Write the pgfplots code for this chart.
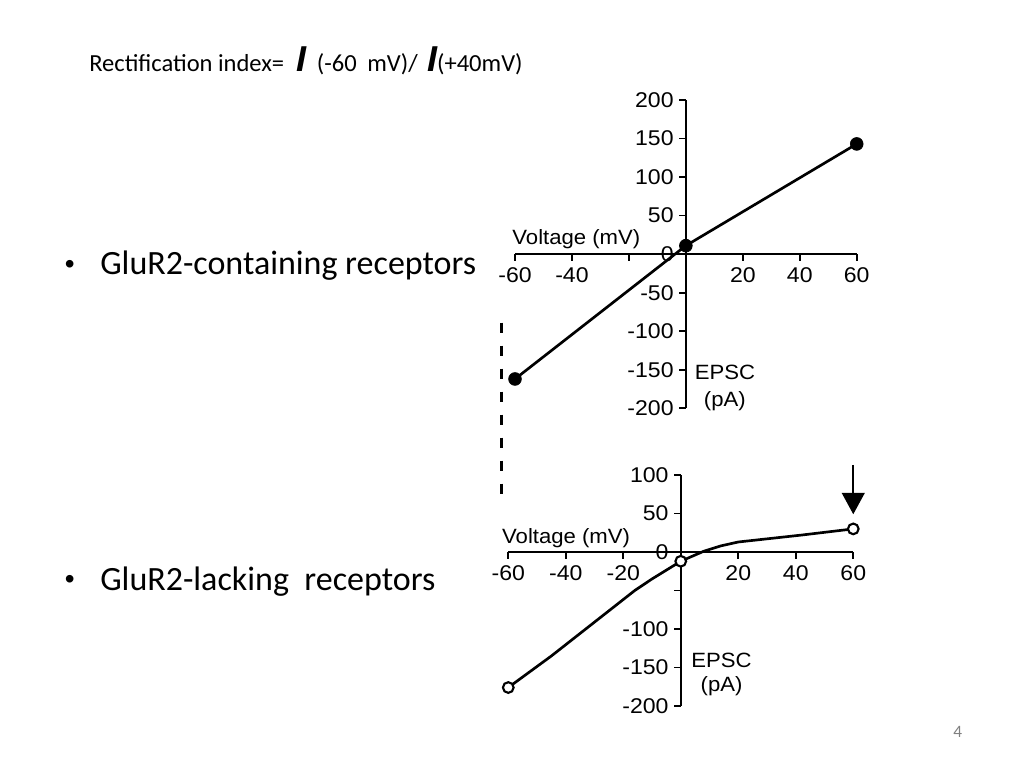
\documentclass[border=0pt]{standalone}
\usepackage{fontspec}
\setmainfont{Carlito}
\newfontfamily\tickfont[FakeStretch=1.08]{Liberation Sans}
\newfontfamily\labfont[FakeStretch=1.07]{Liberation Sans}
\newfontfamily\arialfont{Liberation Sans}
\usepackage{pgfplots}
\pgfplotsset{compat=1.18}
\usetikzlibrary{arrows.meta}

\pgfplotsset{
  iv/.style={
    scale only axis, anchor=south west,
    axis lines=center,
    every inner x axis line/.append style={-},
    every inner y axis line/.append style={-},
    axis line style={line width=1.6pt, black, -},
    tick style={line width=1.3pt, black},
    major tick length=5pt,
    tick align=outside,
    hide obscured x ticks=false, hide obscured y ticks=false,
    xmin=-60, xmax=60,
    xtick={-60,-40,-20,20,40,60},
    /pgf/number format/assume math mode=true,
    ticklabel style={font=\tickfont\fontsize{16}{16}\selectfont},
    xticklabel style={inner sep=2pt, yshift=-3pt},
    yticklabel style={inner sep=2pt, xshift=-2pt},
    clip=false,
  }
}
\newcommand{\bigI}{{\arialfont\bfseries\itshape\fontsize{27}{27}\selectfont I}}

\begin{document}
\begin{tikzpicture}
\path[use as bounding box, fill=white] (0,0) rectangle (768pt,576pt);

% slide text
\node[anchor=base west, inner sep=0, font=\fontsize{18.4}{20}\selectfont] at (66.75pt,522pt)
  {Rectification index=\hspace{9.5pt}\bigI\hspace{7.5pt}(-60\hspace{8pt}mV)/\hspace{7pt}\bigI(+40mV)};
\node[anchor=base west, inner sep=0, font=\arialfont\fontsize{21}{24}\selectfont] at (48.5pt,371pt) {•};
\node[anchor=base west, inner sep=0, font=\fontsize{25.5}{28}\selectfont] at (75pt,369.75pt) {GluR2-containing receptors};
\node[anchor=base west, inner sep=0, font=\arialfont\fontsize{21}{24}\selectfont] at (48.5pt,134.75pt) {•};
\node[anchor=base west, inner sep=0, font=\fontsize{25.5}{28}\selectfont] at (75pt,133.5pt) {GluR2-lacking~ receptors};
\node[anchor=base west, inner sep=0, text=black!50, font=\fontsize{13}{14}\selectfont] at (714.75pt,23.25pt) {4};

% top plot: GluR2-containing
\begin{axis}[iv,
  at={(386.25pt,269.8pt)}, width=256.3pt, height=231.2pt,
  ymin=-200, ymax=200,
  xticklabels={-60,-40,,20,40,60},
  ytick={-200,-150,-100,-50,0,50,100,150,200},
  yticklabels={-200,-150,-100,-50,0,50,100,150,200},
]
\addplot[black, line width=2pt, mark=*, mark size=4.8pt, mark options={solid, fill=black, line width=0.5pt}]
  coordinates {(-60,-162) (0,11) (60,143)};
\draw[black, line width=2.2pt, dash pattern=on 7.5pt off 9.75pt] (axis cs:-64.7,-89) -- (axis cs:-64.7,-315);
\node[anchor=base west, inner sep=0, font=\labfont\fontsize{15.5}{15.5}\selectfont] at (axis cs:-61,12) {Voltage (mV)};
\node[anchor=base, inner sep=0, font=\labfont\fontsize{15.5}{15.5}\selectfont] at (axis cs:13.7,-163) {EPSC};
\node[anchor=base, inner sep=0, font=\labfont\fontsize{15.5}{15.5}\selectfont] at (axis cs:13.7,-197.8) {(pA)};
\end{axis}

% bottom plot: GluR2-lacking
\begin{axis}[iv,
  at={(381.2pt,46.5pt)}, width=258.75pt, height=173.25pt,
  ymin=-200, ymax=100,
  xticklabels={-60,-40,-20,20,40,60},
  ytick={-200,-150,-100,-50,0,50,100},
  yticklabels={-200,-150,-100,,0,50,100},
]
\addplot[black, line width=2pt]
  coordinates {(-60,-176) (-45,-135) (-16,-50) (-10,-35) (0,-12) (8,1) (14,8) (20,13) (42,22) (60,30)};
\addplot[only marks, mark=*, mark size=4pt, mark options={line width=1.6pt, fill=white, draw=black}]
  coordinates {(-60,-176) (0,-12) (60,30)};
\draw[black, line width=1.5pt, -{Triangle[length=16pt, width=17pt]}] (axis cs:60,113) -- (axis cs:60,49);
\node[anchor=base west, inner sep=0, font=\labfont\fontsize{15.5}{15.5}\selectfont] at (axis cs:-62.2,11) {Voltage (mV)};
\node[anchor=base, inner sep=0, font=\labfont\fontsize{15.5}{15.5}\selectfont] at (axis cs:14.2,-149.7) {EPSC};
\node[anchor=base, inner sep=0, font=\labfont\fontsize{15.5}{15.5}\selectfont] at (axis cs:14.2,-181.4) {(pA)};
\end{axis}
\end{tikzpicture}
\end{document}
